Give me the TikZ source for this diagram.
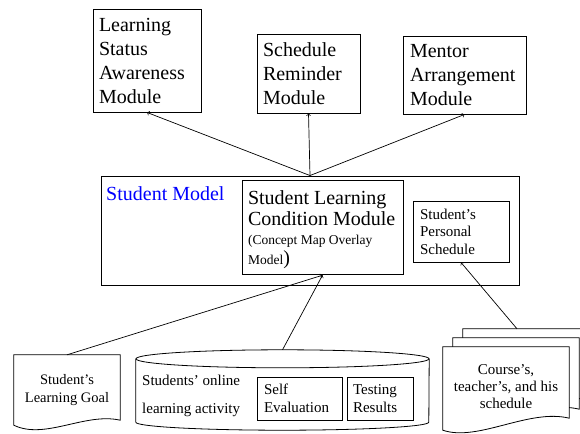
\documentclass[tikz,border=0pt]{standalone}
\usepackage{fontspec}
\setmainfont{Liberation Serif}
\usepackage{tikz}

\begin{document}
\begin{tikzpicture}[x=1pt,y=-1pt,
  modbox/.style={draw,line width=0.9pt,inner sep=6pt,align=flush left,font=\fontsize{20}{24}\selectfont},
  smallbox/.style={draw,line width=0.9pt,inner sep=7pt,align=flush left,font=\fontsize{15}{17.5}\selectfont},
  docshape/.style={inner sep=0pt,align=center,font=\fontsize{15}{17}\selectfont},
  link/.style={->,line width=0.7pt}]
\useasboundingbox (0,0) rectangle (580,433);
\clip (0,0) rectangle (580,433);

\node[modbox,minimum width=108pt,minimum height=103pt,text width=96pt] (lsa) at (147,60.5) {Learning\\Status\\Awareness\\Module};
\node[modbox,minimum width=103pt,minimum height=79pt,text width=91pt] (srm) at (308.5,73.5) {Schedule\\Reminder\\Module};
\node[modbox,inner sep=7pt,minimum width=123pt,minimum height=78pt,text width=109pt] (mam) at (464.5,75) {Mentor\\Arrangement\\Module};

\node[draw,line width=0.9pt,minimum width=418pt,minimum height=109pt] (sm) at (310,230.5) {};
\node[anchor=west,inner sep=0pt,text=blue,font=\fontsize{20}{24}\selectfont] (smlabel) at (106,194) {Student Model};
\node[modbox,font=\fontsize{20}{21}\selectfont,minimum width=161pt,minimum height=83pt,text width=149pt] (slcm) at (322.5,227.5) {\lineskiplimit=-20pt\rule{0pt}{18.3pt}Student Learning\\Condition Module\\[1pt]\fontsize{13.5}{18}\selectfont (Concept Map Overlay\\[-1pt]Model{\fontsize{20}{18}\selectfont)}};
\node[smallbox,minimum width=96pt,minimum height=61pt,text width=82pt] (ps) at (461,231.5) {Student's\\Personal\\Schedule};

\node[docshape,minimum width=106pt,minimum height=70pt,font=\fontsize{14.5}{18}\selectfont] (goal) at (67,390) {Student's\\Learning Goal};
\draw[line width=0.8pt] (goal.north west) -- (goal.north east) -- ([yshift=5pt]goal.south east) .. controls +(-35,-8) and +(31,15) .. (goal.south west) -- cycle;

\node[minimum width=293pt,minimum height=80pt] (db) at (282.5,390) {};
\draw[line width=0.8pt] ([yshift=-9pt]db.north west) -- ([yshift=8pt]db.south west) arc[start angle=180,end angle=360,x radius=146.5pt,y radius=8pt] -- ([yshift=-9pt]db.north east);
\draw[line width=0.8pt] ([yshift=-9pt]db.north) ellipse[x radius=146.5pt,y radius=9pt];
\node[anchor=west,inner sep=0pt,text width=115pt,align=flush left,font=\fontsize{15}{28}\selectfont] (dbtext) at (142,396) {Students' online\\learning activity};
\node[smallbox,minimum width=85pt,minimum height=43pt,text width=71pt,font=\fontsize{15}{18}\selectfont] (self) at (299.5,398.5) {Self\\Evaluation};
\node[smallbox,inner sep=6pt,minimum width=66pt,minimum height=43pt,text width=54pt,font=\fontsize{15}{18}\selectfont] (test) at (380,398.5) {Testing\\Results};

\node[docshape,minimum width=126pt,minimum height=83pt] (sched3) at (526,370.5) {};
\node[docshape,minimum width=126pt,minimum height=83pt] (sched2) at (516,379.5) {};
\node[docshape,minimum width=126pt,minimum height=83pt] (sched1) at (506,388.5) {};
\draw[line width=0.8pt,fill=white] (sched3.north west) -- (sched3.north east) -- ([yshift=12pt]sched3.south east) .. controls +(-40,-10) and +(35,12) .. (sched3.south west) -- cycle;
\draw[line width=0.8pt,fill=white] (sched2.north west) -- (sched2.north east) -- ([yshift=12pt]sched2.south east) .. controls +(-40,-10) and +(35,12) .. (sched2.south west) -- cycle;
\draw[line width=0.8pt,fill=white] (sched1.north west) -- (sched1.north east) -- ([yshift=12pt]sched1.south east) .. controls +(-40,-10) and +(35,12) .. (sched1.south west) -- cycle;
\node[docshape] (schedtext) at ([yshift=2pt]sched1) {Course's,\\teacher's, and his\\schedule};

\draw[link] (sm.north) -- (lsa.south);
\draw[link] (sm.north) -- (srm.south);
\draw[link] (sm.north) -- (mam.south);
\draw[link] (goal.north) -- (slcm.south);
\draw[link] (db.north) -- (slcm.south);
\draw[link] ([xshift=-9pt]sched3.north) -- (ps.south);
\end{tikzpicture}
\end{document}
